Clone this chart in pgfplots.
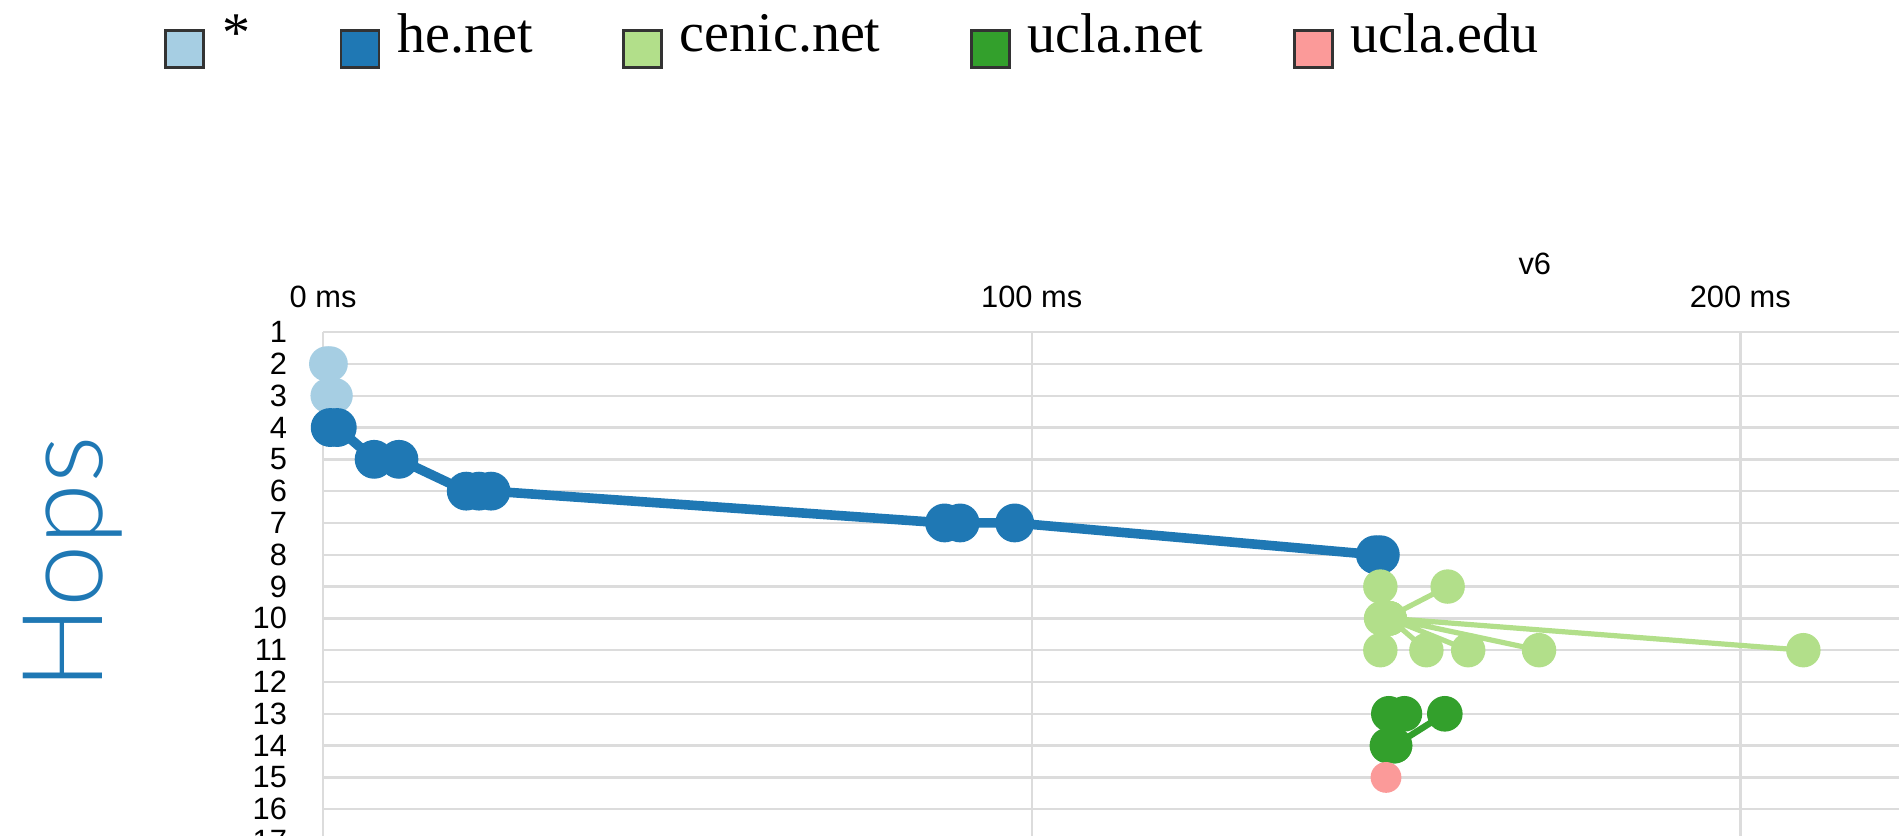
\documentclass[border=0pt]{standalone}
\usepackage{pgfplots}
\pgfplotsset{compat=1.18}
\usepackage{fontspec}
\setmainfont{Liberation Sans}
\newfontfamily\legfont{Liberation Serif}
\newfontfamily\hopsfont{Lato Light}
\definecolor{cA}{HTML}{A6CEE3}
\definecolor{cB}{HTML}{1F78B4}
\definecolor{cC}{HTML}{B2DF8A}
\definecolor{cD}{HTML}{33A02C}
\definecolor{cE}{HTML}{FB9A99}
\definecolor{gridc}{HTML}{DCDCDC}
\begin{document}
\begin{tikzpicture}
\begin{axis}[
  x=1.771pt, y=7.95pt, y dir=reverse,
  xmin=0, xmax=250, ymin=1, ymax=18,
  clip=false,
  axis line style={draw=none},
  tick style={draw=none},
  xtick={0,100,200}, xticklabels={0 ms,100 ms,200 ms},
  xticklabel pos=right,
  ytick={1,...,18},
  grid=major,
  major grid style={gridc, line width=0.6pt},
  tick label style={font=\fontsize{7.7}{8}\selectfont},
  /pgf/number format/assume math mode=true,
  yticklabel style={xshift=-5.5pt},
  xticklabel style={yshift=2.5pt},
  unbounded coords=jump,
  legend columns=5,
  legend style={at={(axis cs:-24.2,-8.3)}, anchor=west, draw=none, fill=none,
    font=\legfont\fontsize{14}{16}\selectfont,
    /tikz/every odd column/.append style={column sep=2.2pt},
    /tikz/every even column/.append style={column sep=20.4pt}},
  legend image code/.code={\path[draw=none, fill=none] (0pt,-8pt) -- (0pt,8pt);
    \draw[#1, draw=black!80, line width=0.7pt] (0pt,-7.8pt) rectangle (9.5pt,1.4pt);},
]
\addlegendimage{fill=cA}\addlegendentry{*}
\addlegendimage{fill=cB}\addlegendentry{he.net}
\addlegendimage{fill=cC}\addlegendentry{cenic.net}
\addlegendimage{fill=cD}\addlegendentry{ucla.net}
\addlegendimage{fill=cE}\addlegendentry{ucla.edu}

% * (hops 2-3)
\addplot[cA, line width=1.5pt, mark=*, mark size=3.65pt, mark options={draw=none, fill=cA}, forget plot] table {
x y
0.5 2
1.0 2
0.7 3
1.7 3
};

% he.net
\addplot[cB, line width=2.4pt, mark=*, mark size=3.65pt, mark options={draw=none, fill=cB}, forget plot] table {
x y
1.0 4
2.0 4
7.2 5
10.7 5
20.2 6
22.0 6
23.7 6
87.7 7
89.9 7
97.6 7
148.5 8
149.2 8
};

% cenic.net
\addplot[cC, line width=1.3pt, mark=*, mark size=3.65pt, mark options={draw=none, fill=cC}, forget plot] table {
x y
149.2 9
149.3 10
nan nan
158.7 9
150.0 10
nan nan
150.5 10
149.2 11
nan nan
150.5 10
155.7 11
nan nan
150.5 10
161.6 11
nan nan
150.5 10
171.6 11
nan nan
150.5 10
208.9 11
};

% ucla.net
\addplot[cD, line width=1.6pt, mark=*, mark size=3.65pt, mark options={draw=none, fill=cD}, forget plot] table {
x y
150.4 13
150.2 14
nan nan
152.6 13
151.2 14
nan nan
151.2 14
158.3 13
};

% ucla.edu
\addplot[cE, only marks, mark=*, mark size=3.65pt, mark options={draw=none, fill=cE}, forget plot] table {
x y
150.0 15
};

\node[rotate=90, font=\hopsfont\fontsize{28}{30}\selectfont, text=cB] at (axis cs:-35.3,8.26) {Hops};
\node[font=\fontsize{7.7}{8}\selectfont] at (axis cs:171,-1.14) {v6};
\coordinate (bbl) at (axis cs:-45.6,16.82);
\coordinate (btr) at (axis cs:222.4,-9.44);
\end{axis}
\pgfresetboundingbox
\useasboundingbox (bbl) rectangle (btr);
\end{tikzpicture}
\end{document}
